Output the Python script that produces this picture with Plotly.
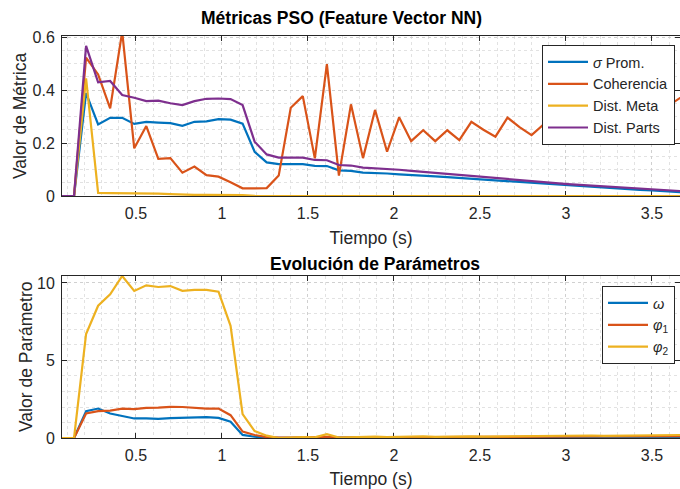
import plotly.graph_objects as go

# Tiempo (s)
tiempo = [0.07, 0.14, 0.21, 0.28, 0.35, 0.42, 0.49, 0.56, 0.63, 0.70,
          0.77, 0.84, 0.91, 0.98, 1.05, 1.12, 1.19, 1.26, 1.33, 1.40,
          1.47, 1.54, 1.61, 1.68, 1.75, 1.82, 1.89, 1.96, 2.03, 2.10,
          2.17, 2.24, 2.31, 2.38, 2.45, 2.52, 2.59, 2.66, 2.73, 2.80,
          2.87, 2.94, 3.01, 3.08, 3.15, 3.22, 3.29, 3.36, 3.43, 3.50,
          3.57, 3.64, 3.71]

# Métricas PSO
sigma_prom = [0, 0, 0.388, 0.27, 0.295, 0.295, 0.272, 0.28, 0.277, 0.275,
              0.265, 0.28, 0.282, 0.29, 0.288, 0.273, 0.167, 0.127, 0.12, 0.12,
              0.12, 0.114, 0.113, 0.097, 0.095, 0.088, 0.087, 0.085, 0.082, 0.080,
              0.077, 0.074, 0.071, 0.068, 0.063, 0.060, 0.058, 0.055, 0.052, 0.049,
              0.046, 0.043, 0.040, 0.037, 0.034, 0.031, 0.029, 0.026, 0.023, 0.021,
              0.018, 0.015, 0.013]
coherencia = [0, 0, 0.522, 0.459, 0.331, 0.62, 0.18, 0.264, 0.14, 0.143,
              0.088, 0.111, 0.079, 0.073, 0.052, 0.029, 0.029, 0.03, 0.077, 0.333,
              0.377, 0.142, 0.498, 0.077, 0.346, 0.143, 0.325, 0.167, 0.297, 0.207,
              0.248, 0.207, 0.248, 0.211, 0.28, 0.25, 0.224, 0.296, 0.26, 0.23,
              0.27, 0.29, 0.28, 0.255, 0.30, 0.27, 0.30, 0.28, 0.31, 0.30,
              0.33, 0.36, 0.39]
dist_meta = [0, 0, 0.444, 0.012, 0.011, 0.011, 0.010, 0.010, 0.009, 0.007,
             0.005, 0.004, 0.004, 0.004, 0.004, 0.003, 0.001, 0, 0, 0,
             0, 0, 0, 0, 0, 0, 0, 0, 0, 0,
             0, 0, 0, 0, 0, 0, 0, 0, 0, 0,
             0, 0, 0, 0, 0, 0, 0, 0, 0, 0,
             0, 0, 0]
dist_parts = [0, 0, 0.567, 0.429, 0.434, 0.381, 0.371, 0.358, 0.36, 0.35,
              0.343, 0.358, 0.367, 0.368, 0.366, 0.343, 0.205, 0.157, 0.145, 0.145,
              0.145, 0.136, 0.135, 0.117, 0.115, 0.107, 0.105, 0.103, 0.099, 0.095,
              0.091, 0.087, 0.083, 0.079, 0.075, 0.071, 0.067, 0.063, 0.060, 0.056,
              0.052, 0.048, 0.045, 0.042, 0.039, 0.036, 0.033, 0.030, 0.027, 0.024,
              0.021, 0.019, 0.017]

# Parámetros
omega = [0, 0, 1.73, 1.9, 1.58, 1.43, 1.26, 1.26, 1.24, 1.28,
         1.3, 1.35, 1.35, 1.3, 1.05, 0.2, 0.08, 0.03, 0.01, 0.01,
         0.02, 0.01, 0.03, 0.01, 0.02, 0.02, 0.03, 0.02, 0.02, 0.03,
         0.02, 0.02, 0.03, 0.03, 0.02, 0.03, 0.03, 0.04, 0.03, 0.03,
         0.04, 0.04, 0.03, 0.04, 0.05, 0.04, 0.04, 0.05, 0.05, 0.04,
         0.05, 0.05, 0.05]
phi1 = [0, 0, 1.58, 1.73, 1.77, 1.9, 1.86, 1.94, 1.96, 2.01,
        2.0, 1.94, 1.9, 1.9, 1.47, 0.41, 0.19, 0.06, 0.02, 0.03,
        0.05, 0.03, 0.08, 0.02, 0.04, 0.05, 0.06, 0.04, 0.05, 0.06,
        0.05, 0.06, 0.07, 0.06, 0.07, 0.08, 0.07, 0.08, 0.09, 0.08,
        0.09, 0.10, 0.09, 0.10, 0.11, 0.10, 0.11, 0.12, 0.11, 0.12,
        0.12, 0.13, 0.13]
phi2 = [0, 0, 6.71, 8.53, 9.27, 10.45, 9.49, 9.85, 9.74, 9.8,
        9.49, 9.55, 9.55, 9.44, 7.24, 1.54, 0.45, 0.15, 0.0, 0.03,
        0.06, 0.04, 0.25, 0.03, 0.06, 0.05, 0.09, 0.06, 0.08, 0.07,
        0.1, 0.07, 0.09, 0.08, 0.11, 0.09, 0.1, 0.12, 0.1, 0.13,
        0.11, 0.14, 0.12, 0.13, 0.16, 0.14, 0.15, 0.18, 0.16, 0.17,
        0.19, 0.2, 0.2]

W, H = 680, 489
L = 62  # left margin in px
FONT = "Liberation Sans"
AXC = "#262626"
TXT = "#262626"

fig = go.Figure()

top_series = [
    ("<i>σ</i> Prom.", sigma_prom, "#0072BD"),
    ("Coherencia", coherencia, "#D95319"),
    ("Dist. Meta", dist_meta, "#EDB120"),
    ("Dist. Parts", dist_parts, "#7E2F8E"),
]
for name, vals, col in top_series:
    fig.add_trace(go.Scatter(x=tiempo, y=vals, mode="lines", name=name,
                             line=dict(color=col, width=2.2),
                             xaxis="x", yaxis="y", legend="legend"))

bottom_series = [
    ("<i>ω</i>", omega, "#0072BD"),
    ("<i>φ</i><sub>1</sub>", phi1, "#D95319"),
    ("<i>φ</i><sub>2</sub>", phi2, "#EDB120"),
]
for name, vals, col in bottom_series:
    fig.add_trace(go.Scatter(x=tiempo, y=vals, mode="lines", name=name,
                             line=dict(color=col, width=2.2),
                             xaxis="x2", yaxis="y2", legend="legend2"))


def px_y(p):
    return 1 - p / H


def px_x(p):
    return (p - L) / (W - L)


common_x = dict(
    range=[0.07, 3.663], tickvals=[0.5, 1, 1.5, 2, 2.5, 3, 3.5],
    ticktext=["0.5", "1", "1.5", "2", "2.5", "3", "3.5"],
    ticks="inside", ticklen=5, tickcolor=AXC, showline=True, linecolor=AXC,
    linewidth=1, mirror="ticks", zeroline=False, automargin=False, layer="below traces",
    showgrid=True, gridcolor="#d0d0d0", griddash="dot", gridwidth=1,
    minor=dict(dtick=0.1, showgrid=True, gridcolor="#e2e2e2", griddash="dot", gridwidth=1, ticks=""),
    tickfont=dict(size=16, color=TXT), ticklabelstandoff=3,
    title=dict(text="Tiempo (s)", font=dict(size=17.5, color=TXT), standoff=10),
)
common_y = dict(
    ticks="inside", ticklen=5, tickcolor=AXC, showline=True, linecolor=AXC,
    linewidth=1, mirror="ticks", zeroline=False, automargin=False, layer="below traces",
    showgrid=True, gridcolor="#d0d0d0", griddash="dot", gridwidth=1,
    tickfont=dict(size=16, color=TXT), ticklabelstandoff=3,
)


def side_title(text, x, y):
    # rotated y-axis title placed in pixels
    return dict(text=text, x=px_x(x), y=px_y(y), xref="paper", yref="paper",
                showarrow=False, textangle=-90, xanchor="center", yanchor="middle",
                font=dict(size=17.5, color=TXT))


fig.update_layout(
    width=W, height=H,
    margin=dict(l=L, r=0, t=0, b=0, autoexpand=False),
    paper_bgcolor="white", plot_bgcolor="white",
    font=dict(family=FONT, color=TXT),
    xaxis=dict(common_x, anchor="y", domain=[0, 1]),
    xaxis2=dict(common_x, anchor="y2", domain=[0, 1]),
    yaxis=dict(common_y, anchor="x", domain=[px_y(196), px_y(36)],
               range=[0, 0.604], tickvals=[0, 0.2, 0.4, 0.6],
               ticktext=["0", "0.2", "0.4", "0.6"],
               minor=dict(dtick=0.05, showgrid=True, gridcolor="#e2e2e2", griddash="dot", ticks="")),
    yaxis2=dict(common_y, anchor="x2", domain=[px_y(438), px_y(276)],
                range=[0, 10.45], tickvals=[0, 5, 10],
                minor=dict(dtick=1, showgrid=True, gridcolor="#e2e2e2", griddash="dot", ticks="")),
    legend=dict(x=px_x(675), y=px_y(45), xanchor="right", yanchor="top",
                xref="paper", yref="paper",
                bgcolor="white", bordercolor=AXC, borderwidth=1,
                font=dict(size=14.5, color=TXT), tracegroupgap=0, itemwidth=40),
    legend2=dict(x=px_x(675), y=px_y(286), xanchor="right", yanchor="top",
                 xref="paper", yref="paper",
                 bgcolor="white", bordercolor=AXC, borderwidth=1,
                 font=dict(size=14.5, color=TXT), tracegroupgap=0, itemwidth=40),
    annotations=[
        dict(text="<b>Métricas PSO (Feature Vector NN)</b>", x=px_x(341), y=px_y(18),
             xref="paper", yref="paper", showarrow=False, xanchor="center",
             yanchor="middle", font=dict(size=17.5, color="black")),
        dict(text="<b>Evolución de Parámetros</b>", x=px_x(375), y=px_y(264),
             xref="paper", yref="paper", showarrow=False, xanchor="center",
             yanchor="middle", font=dict(size=17.5, color="black")),
        side_title("Valor de Métrica", 20, 116),
        side_title("Valor de Parámetro", 26, 357),
    ],
)

# page body has a default 8px margin; drop it so the figure fills the window
fig.write_html("out.html", config={"displayModeBar": False},
               post_script="document.body.style.margin='0';")
